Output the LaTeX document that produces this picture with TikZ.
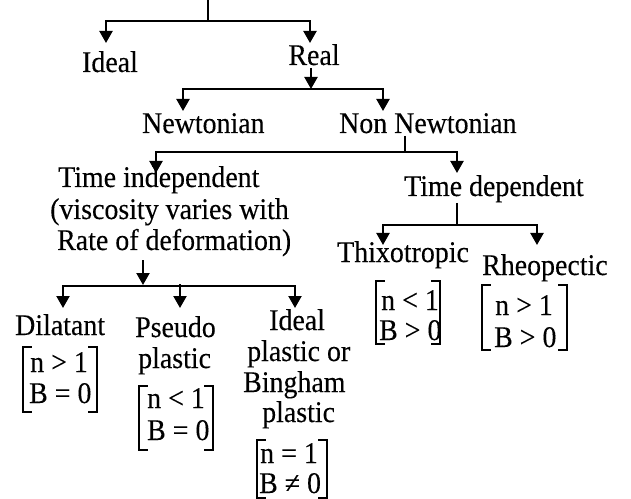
\documentclass[tikz,border=0pt]{standalone}
\usepackage{fontspec}
\setmainfont{Liberation Serif}[FakeStretch=0.93,FakeBold=0.2]
\usetikzlibrary{arrows.meta}
\newcommand\drawbrackets[1]{%
  \draw[brk] ([xshift=9bp]#1.north west) -- (#1.north west) -- (#1.south west) -- ([xshift=9bp]#1.south west);
  \draw[brk] ([xshift=-9bp]#1.north east) -- (#1.north east) -- (#1.south east) -- ([xshift=-9bp]#1.south east);}
\begin{document}
\begin{tikzpicture}[x=1bp,y=-1bp,
  lbl/.style={inner sep=0pt, anchor=base west, font=\fontsize{30bp}{31bp}\selectfont},
  lblc/.style={lbl, anchor=base},
  ln/.style={line width=2.2bp},
  arr/.style={ln, -{Triangle[width=13bp,length=12bp]}},
  brk/.style={line width=2.2bp},
  brbox/.style args={#1x#2}{inner sep=0pt, draw=none, minimum width=#1bp, minimum height=#2bp}]
\useasboundingbox (0,0) rectangle (631,499);

% text nodes
\node[lblc] (ideal) at (110,72) {Ideal};
\node[lblc] (real) at (314,65) {Real};
\node[lbl] (newt) at (142,133) {Newtonian};
\node[lbl] (nonnewt) at (339,133) {Non Newtonian};
\node[lbl] (ti1) at (58,187) {Time independent};
\node[lbl] (ti2) at (50,219) {(viscosity varies with};
\node[lbl] (ti3) at (57,250) {Rate of deformation)};
\node[lbl] (td) at (404,196) {Time dependent};
\node[lbl] (thix) at (337,262) {Thixotropic};
\node[lbl] (rheo) at (482,275) {Rheopectic};
\node[lbl] (dil) at (15,335) {Dilatant};
\node[lbl] (ps1) at (135,337) {Pseudo};
\node[lbl] (ps2) at (138,368) {plastic};
\node[lbl] (bi1) at (269,330) {Ideal};
\node[lbl] (bi2) at (247,361) {plastic or};
\node[lbl] (bi3) at (243,392) {Bingham};
\node[lbl] (bi4) at (262,422) {plastic};

% bracketed conditions
\node[brbox=74x65] (dilb) at (60,379.5) {};
\node[lbl] (dilc1) at (30,372) {n > 1};
\node[lbl] (dilc2) at (29,403) {B = 0};
\drawbrackets{dilb}
\node[brbox=74x64] (psb) at (176,418) {};
\node[lbl] (psc1) at (147,408) {n < 1};
\node[lbl] (psc2) at (147,440) {B = 0};
\drawbrackets{psb}
\node[brbox=70x58] (bib) at (292,469) {};
\node[lbl] (bic1) at (260,463) {n = 1};
\node[lbl] (bic2) at (259,493) {B ≠ 0};
\drawbrackets{bib}
\node[brbox=64x63] (thb) at (408,312.5) {};
\node[lbl] (thc1) at (381,310) {n < 1};
\node[lbl] (thc2) at (379,340) {B > 0};
\drawbrackets{thb}
\node[brbox=85x65] (rhb) at (524.5,317.5) {};
\node[lbl] (rhc1) at (495,315) {n > 1};
\node[lbl] (rhc2) at (494,347) {B > 0};
\drawbrackets{rhb}

% junction coordinates and arrow tips
\coordinate (top) at (208,0);
\coordinate (j1) at (208,21);
\coordinate (tIdeal) at (106,43);
\coordinate (tReal) at (310,43);
\coordinate (r0) at (311,68);
\coordinate (j2) at (311,89);
\coordinate (tNewt) at (183,111);
\coordinate (tNon) at (383,111);
\coordinate (n0) at (405,136);
\coordinate (j3) at (405,152);
\coordinate (tTI) at (156,173);
\coordinate (tTD) at (457,173);
\coordinate (d0) at (457,203);
\coordinate (j4) at (457,225);
\coordinate (tThix) at (383,245);
\coordinate (tRheo) at (537,245);
\coordinate (i0) at (143,260);
\coordinate (j5) at (143,285);
\coordinate (j5m) at (180,284);
\coordinate (tDil) at (63,308);
\coordinate (tPs) at (180,308);
\coordinate (tBi) at (295,308);

\draw[ln] (top) -- (j1);
\draw[arr] (j1) -| (tIdeal);
\draw[arr] (j1) -| (tReal);
\draw[arr] (r0) -- (j2);
\draw[arr] (j2) -| (tNewt);
\draw[arr] (j2) -| (tNon);
\draw[ln] (n0) -- (j3);
\draw[arr] (j3) -| (tTI);
\draw[arr] (j3) -| (tTD);
\draw[ln] (d0) -- (j4);
\draw[arr] (j4) -| (tThix);
\draw[arr] (j4) -| (tRheo);
\draw[arr] (i0) -- (j5);
\draw[arr] ([yshift=-1bp]j5) -| (tDil);
\draw[arr] ([yshift=-1bp]j5) -| (tBi);
\draw[arr] (j5m) -- (tPs);
\end{tikzpicture}
\end{document}
